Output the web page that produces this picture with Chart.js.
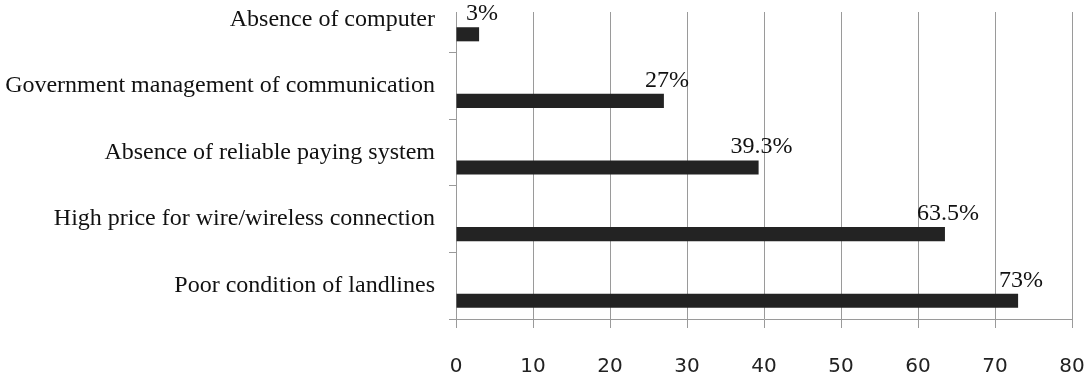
<!DOCTYPE html>
<html>
<head>
<meta charset="utf-8">
<script src="https://cdn.jsdelivr.net/npm/chart.js@4/dist/chart.umd.min.js"></script>
<style>
  html, body { margin: 0; padding: 0; background: #fff; overflow: hidden; }
  #wrap { position: relative; width: 1085px; height: 372px; overflow: hidden; }
  #my_graph { position: absolute; left: 0; top: -26px; }
</style>
</head>
<body>
<div id="wrap">
  <canvas id="my_graph" width="1085" height="398"></canvas>
</div>
<script>
const reasons = [
  'Absence of computer',
  'Government management of communication',
  'Absence of reliable paying system',
  'High price for wire/wireless connection',
  'Poor condition of landlines'
];
const percents = [3, 27, 39.3, 63.5, 73];
const xTicks = [0, 10, 20, 30, 40, 50, 60, 70, 80];

// the top of the first band is cut off in the original, hide the lines there
const cutTop = 26;

const serif = "'Liberation Serif', 'Times New Roman', serif";

const topMask = {
  id: 'topMask',
  beforeDatasetsDraw(chart) {
    const { ctx, chartArea } = chart;
    ctx.save();
    ctx.fillStyle = '#fff';
    ctx.fillRect(chartArea.left - 10, chartArea.top - 1, chartArea.right - chartArea.left + 20, cutTop + 1);
    ctx.restore();
  }
};

const valueLabels = {
  id: 'valueLabels',
  afterDatasetsDraw(chart) {
    const { ctx } = chart;
    const meta = chart.getDatasetMeta(1);
    ctx.save();
    ctx.font = '24px ' + serif;
    ctx.fillStyle = '#111';
    ctx.textAlign = 'center';
    ctx.textBaseline = 'alphabetic';
    meta.data.forEach((bar, i) => {
      ctx.fillText(percents[i] + '%', bar.x + 3, bar.y - bar.height / 2 - 7);
    });
    ctx.restore();
  }
};

const ctx = document.getElementById('my_graph');

new Chart(ctx, {
  type: 'bar',
  data: {
    labels: reasons,
    datasets: [{
      // empty slot so the bar sits in the lower half of its band
      data: reasons.map(() => null),
      backgroundColor: 'transparent'
    }, {
      data: percents,
      backgroundColor: '#232323',
      borderWidth: 0
    }]
  },
  options: {
    indexAxis: 'y',
    responsive: false,
    animation: false,
    categoryPercentage: 0.9,
    barPercentage: 0.47,
    layout: {
      padding: { top: 12, right: 13, left: 0, bottom: 0 }
    },
    scales: {
      x: {
        min: 0,
        max: 80,
        afterBuildTicks: scale => { scale.ticks = xTicks.map(v => ({ value: v })); },
        afterFit: scale => {
          scale.height = 53;
          scale.paddingLeft = 0;
          scale.paddingRight = 0;
        },
        ticks: {
          color: '#222',
          padding: 27,
          font: { family: "'DejaVu Sans', sans-serif", size: 20 }
        },
        grid: {
          color: '#9a9a9a',
          tickLength: 9
        },
        border: { color: '#9a9a9a' }
      },
      y: {
        afterFit: scale => {
          scale.width = 456;
          scale.paddingTop = 0;
          scale.paddingBottom = 0;
        },
        ticks: {
          color: '#111',
          padding: 14,
          font: { family: serif, size: 24 }
        },
        grid: {
          drawOnChartArea: false,
          color: '#9a9a9a',
          tickLength: 7
        },
        border: { color: '#9a9a9a' }
      }
    },
    plugins: {
      legend: { display: false },
      tooltip: { enabled: false }
    }
  },
  plugins: [topMask, valueLabels]
});
</script>
</body>
</html>
